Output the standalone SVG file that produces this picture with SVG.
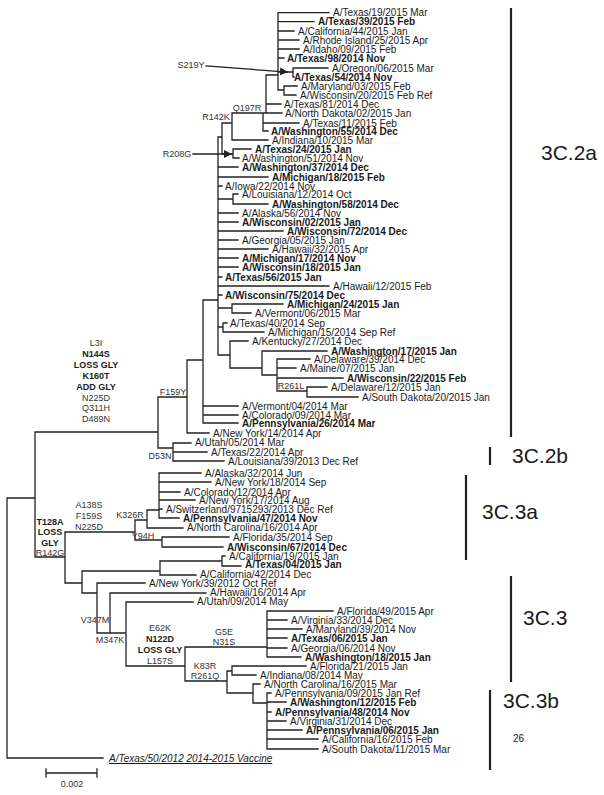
<svg xmlns="http://www.w3.org/2000/svg" width="604" height="795" viewBox="0 0 604 795">
<defs>
<style>
text{font-family:"Liberation Sans",Arial,sans-serif;fill:#1a1a1a}
.t{font-size:10px}
.b{font-size:10px;font-weight:bold}
.m{font-size:9px;text-anchor:middle;fill:#333}
.mb{font-size:9px;font-weight:bold;text-anchor:middle}
.c{font-size:21px}
.e{fill:none;stroke:#222;stroke-width:1.3;stroke-linecap:square}
.bar{stroke:#222;stroke-width:2.2}
</style>
<marker id="ah" markerWidth="8" markerHeight="8" refX="7" refY="4" orient="auto" markerUnits="userSpaceOnUse"><path d="M0,0 L8,4 L0,8 z" fill="#222"/></marker>
</defs>
<rect width="604" height="795" fill="#fff"/>
<g id="connectors">
<path class="e" d="M7 498V758M7 498H35M7 758H103M35 432V557M35 432H158M35 557H65
M158 397V448M158 397H187M158 448H173M173 443V461M173 443H191M173 452H207M173 461H224
M187 360V433M187 360H203M187 433H209M203 300V423M203 300H218M203 406H238M203 415H238M203 423H238
M218 137V355M218 137H222M222 123V154M222 123H232M222 154H233
M232 113V140M232 113H282M232 140H268
M266 75V113M266 75H278M266 104H281M263 113V131M263 123H299M263 131H268
M278 12.7V90M278 12.7H329M278 21.7H314M278 31H294M278 40H299M278 49H299M278 58H284M278 72H293M278 90H284
M293 68V77M293 68H328M293 77H294M284 86V95M284 86H297M284 95H296
M233 149V158M233 149H251M233 158H239
M218 167H238M218 177H268M218 186H222M218 199H233M233 194V204M233 194H238M233 204H268
M218 213H238M218 222H238M218 231H283M218 240H238M218 249H268M218 258H238M218 267H238M218 277H222M218 286H329M218 295H222
M218 308H232M232 304V313M232 304H283M232 313H251M218 327H223M223 323V332M223 323H227M223 332H264
M218 355H230M230 341V368M230 341H248M230 368H262M262 351V375M262 351H327M262 375H277
M277 359V391M277 359H310M277 368H296M277 378H343M277 391H307M307 387V397M307 387H327M307 397H358
M65 532V583M65 532H135M65 583H82M135 520V540M135 520H147M135 540H162M147 510V528M147 510H159M147 528H183
M159 473V518M159 473H201M159 482H211M159 492H180M159 500H195M159 509H162M159 518H179
M162 537V547M162 537H229M162 547H223
M82 571V593M82 571H160M82 593H97M160 561V575M160 561H222M160 575H196M222 556V566M222 556H225M222 566H241
M97 583V633M97 583H145M97 633H126M110 593V633M110 593H206M126 602V666M126 602H193M126 666H185
M185 647V681M185 647H267M185 681H227
M267 611V657M267 611H333M267 620H287M267 629H302M267 638H287M267 648H287M267 657H301
M227 671V693M227 671H232M227 693H253M232 666V675M232 666H306M232 675H256
M253 684V703M253 684H260M253 703H267M267 693V749M267 693H271M267 702H286M267 712H271M267 721H286M267 730H302M267 739H318M267 749H318"/>
<path class="e" d="M206 66L287 72" marker-end="url(#ah)"/>
<path class="e" d="M193 154H231" marker-end="url(#ah)"/>
</g>
<g id="mutations">
<text class="m" x="191" y="68">S219Y</text>
<text class="m" x="177" y="157">R208G</text>
<text class="m" x="216" y="120">R142K</text>
<text class="m" x="247" y="111">Q197R</text>
<text class="m" x="96" y="346">L3I</text>
<text class="mb" x="96" y="357">N144S</text>
<text class="mb" x="96" y="368">LOSS GLY</text>
<text class="mb" x="96" y="379">K160T</text>
<text class="mb" x="96" y="390">ADD GLY</text>
<text class="m" x="96" y="401">N225D</text>
<text class="m" x="96" y="411">Q311H</text>
<text class="m" x="96" y="422">D489N</text>
<text class="m" x="173" y="395">F159Y</text>
<text class="m" x="160" y="459">D53N</text>
<text class="m" x="291" y="389">R261L</text>
<text class="m" x="89" y="508">A138S</text>
<text class="m" x="89" y="519">F159S</text>
<text class="m" x="89" y="530">N225D</text>
<text class="mb" x="50" y="525">T128A</text>
<text class="mb" x="50" y="535">LOSS</text>
<text class="mb" x="50" y="546">GLY</text>
<text class="m" x="50" y="556">R142G</text>
<text class="m" x="130" y="518">K326R</text>
<text class="m" x="143" y="539">Y94H</text>
<text class="m" x="95" y="623">V347M</text>
<text class="m" x="110" y="643">M347K</text>
<text class="m" x="160" y="631">E62K</text>
<text class="mb" x="160" y="642">N122D</text>
<text class="mb" x="160" y="653">LOSS GLY</text>
<text class="m" x="160" y="664">L157S</text>
<text class="m" x="224" y="635">G5E</text>
<text class="m" x="224" y="645">N31S</text>
<text class="m" x="205" y="669">K83R</text>
<text class="m" x="205" y="679">R261Q</text>
</g>
<g id="l1"><text class="t" x="333" y="16">A/Texas/19/2015 Mar</text></g>
<g id="l2"><text class="b" x="318" y="25">A/Texas/39/2015 Feb</text></g>
<g id="l3"><text class="t" x="298" y="34.5">A/California/44/2015 Jan</text></g>
<g id="l4"><text class="t" x="303" y="43.5">A/Rhode Island/25/2015 Apr</text></g>
<g id="l5"><text class="t" x="303" y="52.5">A/Idaho/09/2015 Feb</text></g>
<g id="l6"><text class="b" x="287" y="61.5">A/Texas/98/2014 Nov</text></g>
<g id="l7"><text class="t" x="332" y="71.5">A/Oregon/06/2015 Mar</text></g>
<g id="l8"><text class="b" x="294" y="80.5">A/Texas/54/2014 Nov</text></g>
<g id="l9"><text class="t" x="301" y="89.5">A/Maryland/03/2015 Feb</text></g>
<g id="l10"><text class="t" x="300" y="98.5">A/Wisconsin/20/2015 Feb Ref</text></g>
<g id="l11"><text class="t" x="284" y="107.5">A/Texas/81/2014 Dec</text></g>
<g id="l12"><text class="t" x="285" y="116.5">A/North Dakota/02/2015 Jan</text></g>
<g id="l13"><text class="t" x="303" y="126.5">A/Texas/11/2015 Feb</text></g>
<g id="l14"><text class="b" x="271" y="134.5">A/Washington/55/2014 Dec</text></g>
<g id="l15"><text class="t" x="272" y="143.5">A/Indiana/10/2015 Mar</text></g>
<g id="l16"><text class="b" x="255" y="152.5">A/Texas/24/2015 Jan</text></g>
<g id="l17"><text class="t" x="242" y="161.5">A/Washington/51/2014 Nov</text></g>
<g id="l18"><text class="b" x="242" y="170.5">A/Washington/37/2014 Dec</text></g>
<g id="l19"><text class="b" x="272" y="180.5">A/Michigan/18/2015 Feb</text></g>
<g id="l20"><text class="t" x="225" y="189.5">A/Iowa/22/2014 Nov</text></g>
<g id="l21"><text class="t" x="242" y="197.5">A/Louisiana/12/2014 Oct</text></g>
<g id="l22"><text class="b" x="272" y="207.5">A/Washington/58/2014 Dec</text></g>
<g id="l23"><text class="t" x="242" y="216.5">A/Alaska/56/2014 Nov</text></g>
<g id="l24"><text class="b" x="242" y="225.5">A/Wisconsin/02/2015 Jan</text></g>
<g id="l25"><text class="b" x="287" y="234.5">A/Wisconsin/72/2014 Dec</text></g>
<g id="l26"><text class="t" x="242" y="243.5">A/Georgia/05/2015 Jan</text></g>
<g id="l27"><text class="t" x="272" y="252.5">A/Hawaii/32/2015 Apr</text></g>
<g id="l28"><text class="b" x="242" y="261.5">A/Michigan/17/2014 Nov</text></g>
<g id="l29"><text class="b" x="242" y="270.5">A/Wisconsin/18/2015 Jan</text></g>
<g id="l30"><text class="b" x="225" y="280.5">A/Texas/56/2015 Jan</text></g>
<g id="l31"><text class="t" x="333" y="289.5">A/Hawaii/12/2015 Feb</text></g>
<g id="l32"><text class="b" x="225" y="298.5">A/Wisconsin/75/2014 Dec</text></g>
<g id="l33"><text class="b" x="287" y="307.5">A/Michigan/24/2015 Jan</text></g>
<g id="l34"><text class="t" x="255" y="316.5">A/Vermont/06/2015 Mar</text></g>
<g id="l35"><text class="t" x="230" y="326.5">A/Texas/40/2014 Sep</text></g>
<g id="l36"><text class="t" x="268" y="335.5">A/Michigan/15/2014 Sep Ref</text></g>
<g id="l37"><text class="t" x="252" y="344.5">A/Kentucky/27/2014 Dec</text></g>
<g id="l38"><text class="b" x="331" y="354.5">A/Washington/17/2015 Jan</text></g>
<g id="l39"><text class="t" x="314" y="362.5">A/Delaware/39/2014 Dec</text></g>
<g id="l40"><text class="t" x="300" y="371.5">A/Maine/07/2015 Jan</text></g>
<g id="l41"><text class="b" x="347" y="381.5">A/Wisconsin/22/2015 Feb</text></g>
<g id="l42"><text class="t" x="331" y="390.5">A/Delaware/12/2015 Jan</text></g>
<g id="l43"><text class="t" x="362" y="400.5">A/South Dakota/20/2015 Jan</text></g>
<g id="l44"><text class="t" x="242" y="409.5">A/Vermont/04/2014 Mar</text></g>
<g id="l45"><text class="t" x="242" y="418.5">A/Colorado/09/2014 Mar</text></g>
<g id="l46"><text class="b" x="242" y="426.5">A/Pennsylvania/26/2014 Mar</text></g>
<g id="l47"><text class="t" x="213" y="436.5">A/New York/14/2014 Apr</text></g>
<g id="l48"><text class="t" x="195" y="445.5">A/Utah/05/2014 Mar</text></g>
<g id="l49"><text class="t" x="211" y="455.5">A/Texas/22/2014 Apr</text></g>
<g id="l50"><text class="t" x="228" y="464.5">A/Louisiana/39/2013 Dec Ref</text></g>
<g id="l51"><text class="t" x="205" y="476.5">A/Alaska/32/2014 Jun</text></g>
<g id="l52"><text class="t" x="215" y="485.5">A/New York/18/2014 Sep</text></g>
<g id="l53"><text class="t" x="184" y="495.5">A/Colorado/12/2014 Apr</text></g>
<g id="l54"><text class="t" x="199" y="503.5">A/New York/17/2014 Aug</text></g>
<g id="l55"><text class="t" x="166" y="512.5">A/Switzerland/9715293/2013 Dec Ref</text></g>
<g id="l56"><text class="b" x="183" y="521.5">A/Pennsylvania/47/2014 Nov</text></g>
<g id="l57"><text class="t" x="187" y="530.5">A/North Carolina/16/2014 Apr</text></g>
<g id="l58"><text class="t" x="233" y="540.5">A/Florida/35/2014 Sep</text></g>
<g id="l59"><text class="b" x="227" y="550.5">A/Wisconsin/67/2014 Dec</text></g>
<g id="l60"><text class="t" x="229" y="559.5">A/California/19/2015 Jan</text></g>
<g id="l61"><text class="b" x="245" y="567.5">A/Texas/04/2015 Jan</text></g>
<g id="l62"><text class="t" x="200" y="577.5">A/California/42/2014 Dec</text></g>
<g id="l63"><text class="t" x="149" y="586.5">A/New York/39/2012 Oct Ref</text></g>
<g id="l64"><text class="t" x="210" y="595.5">A/Hawaii/16/2014 Apr</text></g>
<g id="l65"><text class="t" x="197" y="604.5">A/Utah/09/2014 May</text></g>
<g id="l66"><text class="t" x="337" y="614.5">A/Florida/49/2015 Apr</text></g>
<g id="l67"><text class="t" x="291" y="623.5">A/Virginia/33/2014 Dec</text></g>
<g id="l68"><text class="t" x="306" y="632.5">A/Maryland/39/2014 Nov</text></g>
<g id="l69"><text class="b" x="291" y="641.5">A/Texas/06/2015 Jan</text></g>
<g id="l70"><text class="t" x="291" y="651.5">A/Georgia/06/2014 Nov</text></g>
<g id="l71"><text class="b" x="305" y="660.5">A/Washington/18/2015 Jan</text></g>
<g id="l72"><text class="t" x="310" y="669.5">A/Florida/21/2015 Jan</text></g>
<g id="l73"><text class="t" x="260" y="678.5">A/Indiana/08/2014 May</text></g>
<g id="l74"><text class="t" x="264" y="687.5">A/North Carolina/16/2015 Mar</text></g>
<g id="l75"><text class="t" x="275" y="696.5">A/Pennsylvania/09/2015 Jan Ref</text></g>
<g id="l76"><text class="b" x="290" y="705.5">A/Washington/12/2015 Feb</text></g>
<g id="l77"><text class="b" x="275" y="715.5">A/Pennsylvania/48/2014 Nov</text></g>
<g id="l78"><text class="t" x="290" y="724.5">A/Virginia/31/2014 Dec</text></g>
<g id="l79"><text class="b" x="306" y="733.5">A/Pennsylvania/06/2015 Jan</text></g>
<g id="l80"><text class="t" x="322" y="742.5">A/California/16/2015 Feb</text></g>
<g id="l81"><text class="t" x="322" y="752.5">A/South Dakota/11/2015 Mar</text></g>
<g id="vaccine"><text class="t" x="109" y="762" font-style="italic" text-decoration="underline">A/Texas/50/2012 2014-2015 Vaccine</text></g>
<g id="clades">
<line class="bar" x1="511" y1="8" x2="511" y2="437"/>
<text class="c" x="541" y="160">3C.2a</text>
<line class="bar" x1="490" y1="447" x2="490" y2="465"/>
<text class="c" x="512" y="463">3C.2b</text>
<line class="bar" x1="466" y1="475" x2="466" y2="560"/>
<text class="c" x="482" y="519">3C.3a</text>
<line class="bar" x1="511" y1="576" x2="511" y2="682"/>
<text class="c" x="523" y="625">3C.3</text>
<line class="bar" x1="490" y1="690" x2="490" y2="770"/>
<text class="c" x="503" y="708">3C.3b</text>
<text class="t" x="513" y="742" font-size="10.5">26</text>
</g>
<g id="scalebar">
<path class="e" d="M46 773H97M46 769V777M97 769V777"/>
<text class="m" x="72" y="787" font-size="8.5">0.002</text>
</g>
</svg>
